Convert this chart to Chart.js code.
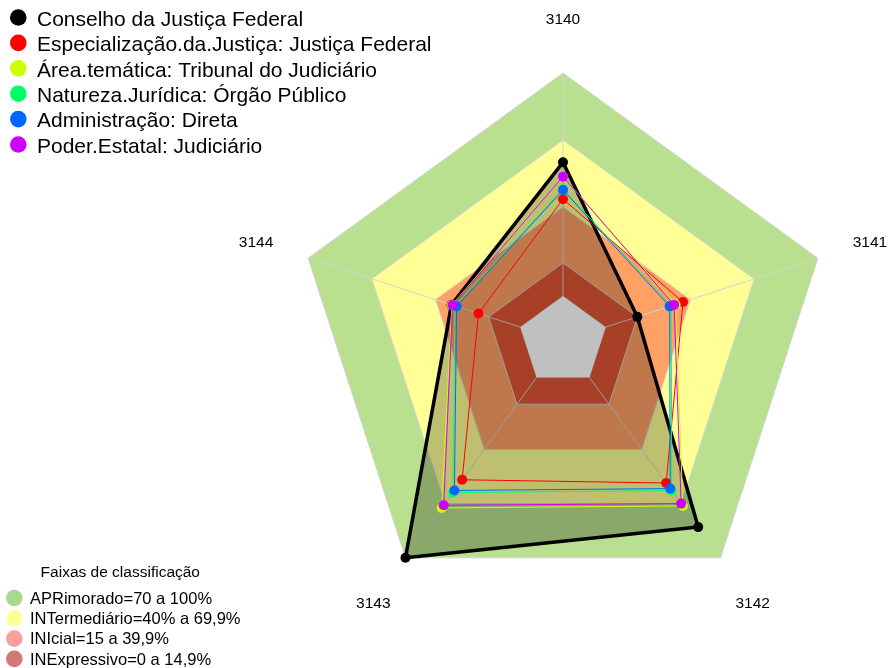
<!DOCTYPE html>
<html><head><meta charset="utf-8">
<script src="https://cdn.jsdelivr.net/npm/chart.js@4.4.1/dist/chart.umd.min.js"></script>
<style>
html,body{margin:0;padding:0;background:#fff;}
#wrap{position:relative;width:889px;height:668px;overflow:hidden;}
#wrap canvas{position:absolute;left:0;top:0;}
</style></head><body>
<div id="wrap"><canvas id="bands" width="889" height="668"></canvas><canvas id="main" width="889" height="668"></canvas></div>
<script>
// ---- data ----
const axisLabels = ['3140', '3141', '3142', '3143', '3144'];
const seriesNames = [
  'Conselho da Justiça Federal',
  'Especialização.da.Justiça: Justiça Federal',
  'Área.temática: Tribunal do Judiciário',
  'Natureza.Jurídica: Órgão Público',
  'Administração: Direta',
  'Poder.Estatal: Judiciário'
];
const conselho       = [60, 15, 83, 100, 32.5];
const especializacao = [43.5, 36.5, 58.6, 56.8, 19.8];
const areaTematica   = [53.5, 33, 71.3, 72.4, 32.3];
const natureza       = [48, 31, 62.8, 63.9, 30.8];
const administracao  = [47.6, 30.2, 61.7, 62.7, 30.1];
const poder          = [53.6, 32.3, 70, 70.9, 32];
const seriesColors = ['#000000', '#FF0000', '#CCFF00', '#00FF66', '#0066FF', '#CC00FF'];

const bandTitle = 'Faixas de classificação';
const bandNames = ['APRimorado=70 a 100%', 'INTermediário=40% a 69,9%', 'INIcial=15 a 39,9%', 'INExpressivo=0 a 14,9%'];
const bandUpper = [100, 70, 40, 15];
const bandFill = ['#B8E08E', '#FFFF96', '#FFA064', '#E05535'];
const bandLegendColors = ['#A8D88C', '#FFFF99', '#F8A0A0', '#D27878'];
const centerValue = 0;
const gridValues = [0, 15, 40, 70, 100];
const scaleMin = -20, scaleMax = 100;
const labelValue = 124.5;

// ---- helpers ----
const FONT = '"Liberation Sans", Arial, sans-serif';
const layoutPad = {left: 295, top: 73, right: 57, bottom: 58};

function radialScale(showGrid) {
  return {
    min: scaleMin, max: scaleMax,
    startAngle: 0,
    afterBuildTicks: s => { s.ticks = gridValues.map(v => ({value: v})); },
    ticks: {display: false},
    pointLabels: {display: false},
    grid: {display: showGrid, color: '#D3D3D3', lineWidth: 1},
    angleLines: {display: showGrid, color: '#D3D3D3', lineWidth: 1}
  };
}
function baseOptions(showGrid) {
  return {
    responsive: false, animation: false,
    layout: {padding: layoutPad},
    elements: {line: {tension: 0}},
    plugins: {legend: {display: false}, tooltip: {enabled: false}},
    scales: {r: radialScale(showGrid)}
  };
}

// ---- band chart (bottom layer) ----
new Chart(document.getElementById('bands'), {
  type: 'radar',
  data: {
    labels: axisLabels,
    datasets: bandUpper.map((v, i) => ({
      label: bandNames[i],
      data: axisLabels.map(() => v),
      fill: 'start',
      backgroundColor: bandFill[i],
      borderColor: 'rgba(0,0,0,0)',
      borderWidth: 0,
      pointRadius: 0,
      order: bandUpper.length - i
    }))
  },
  options: baseOptions(false)
});

// ---- text plugins ----
const axisLabelPlugin = {
  id: 'axisLabelText',
  afterDraw(chart) {
    const s = chart.scales.r, ctx = chart.ctx;
    ctx.save();
    ctx.font = '15.5px ' + FONT;
    ctx.fillStyle = '#000';
    ctx.textAlign = 'center';
    ctx.textBaseline = 'middle';
    axisLabels.forEach((t, i) => {
      const p = s.getPointPositionForValue(i, labelValue);
      ctx.fillText(t, p.x, p.y + (i === 0 ? 1 : 1.5));
    });
    ctx.restore();
  }
};
const legendPlugin = {
  id: 'legendText',
  afterDraw(chart) {
    const ctx = chart.ctx;
    ctx.save();
    // series legend
    ctx.font = '21px ' + FONT;
    ctx.textAlign = 'left';
    ctx.textBaseline = 'alphabetic';
    seriesNames.forEach((name, i) => {
      const cy = 17.5 + i * 25.4;
      ctx.fillStyle = seriesColors[i];
      ctx.beginPath(); ctx.arc(18.3, cy, 8.3, 0, Math.PI * 2); ctx.fill();
      ctx.fillStyle = '#000';
      ctx.fillText(name, 37, cy + 8.2);
    });
    // band legend
    ctx.font = '15.5px ' + FONT;
    ctx.textAlign = 'center';
    ctx.fillText(bandTitle, 120.3, 577);
    ctx.font = '16.5px ' + FONT;
    ctx.textAlign = 'left';
    bandNames.forEach((name, i) => {
      const cy = 598 + i * 20.3;
      ctx.fillStyle = bandLegendColors[i];
      ctx.beginPath(); ctx.arc(14.3, cy, 8.3, 0, Math.PI * 2); ctx.fill();
      ctx.fillStyle = '#000';
      ctx.fillText(name, 30, cy + 5.6);
    });
    ctx.restore();
  }
};

// ---- main chart (top layer) ----
const seriesData = [conselho, especializacao, areaTematica, natureza, administracao, poder];
const mainSets = seriesData.map((d, i) => ({
  label: seriesNames[i],
  data: d,
  borderColor: seriesColors[i],
  borderWidth: i === 0 ? 3.5 : 1,
  fill: i === 0 ? 'start' : false,
  backgroundColor: i === 0 ? 'rgba(0,0,0,0.25)' : seriesColors[i],
  pointBackgroundColor: seriesColors[i],
  pointBorderWidth: 0,
  pointRadius: 5,
  order: seriesData.length - i
}));
mainSets.push({
  label: 'centro',
  data: axisLabels.map(() => centerValue),
  fill: 'start',
  backgroundColor: '#C0C0C0',
  borderColor: 'rgba(0,0,0,0)',
  borderWidth: 0,
  pointRadius: 0,
  order: 0
});
new Chart(document.getElementById('main'), {
  type: 'radar',
  data: {labels: axisLabels, datasets: mainSets},
  options: baseOptions(true),
  plugins: [axisLabelPlugin, legendPlugin]
});
</script>
</body></html>
